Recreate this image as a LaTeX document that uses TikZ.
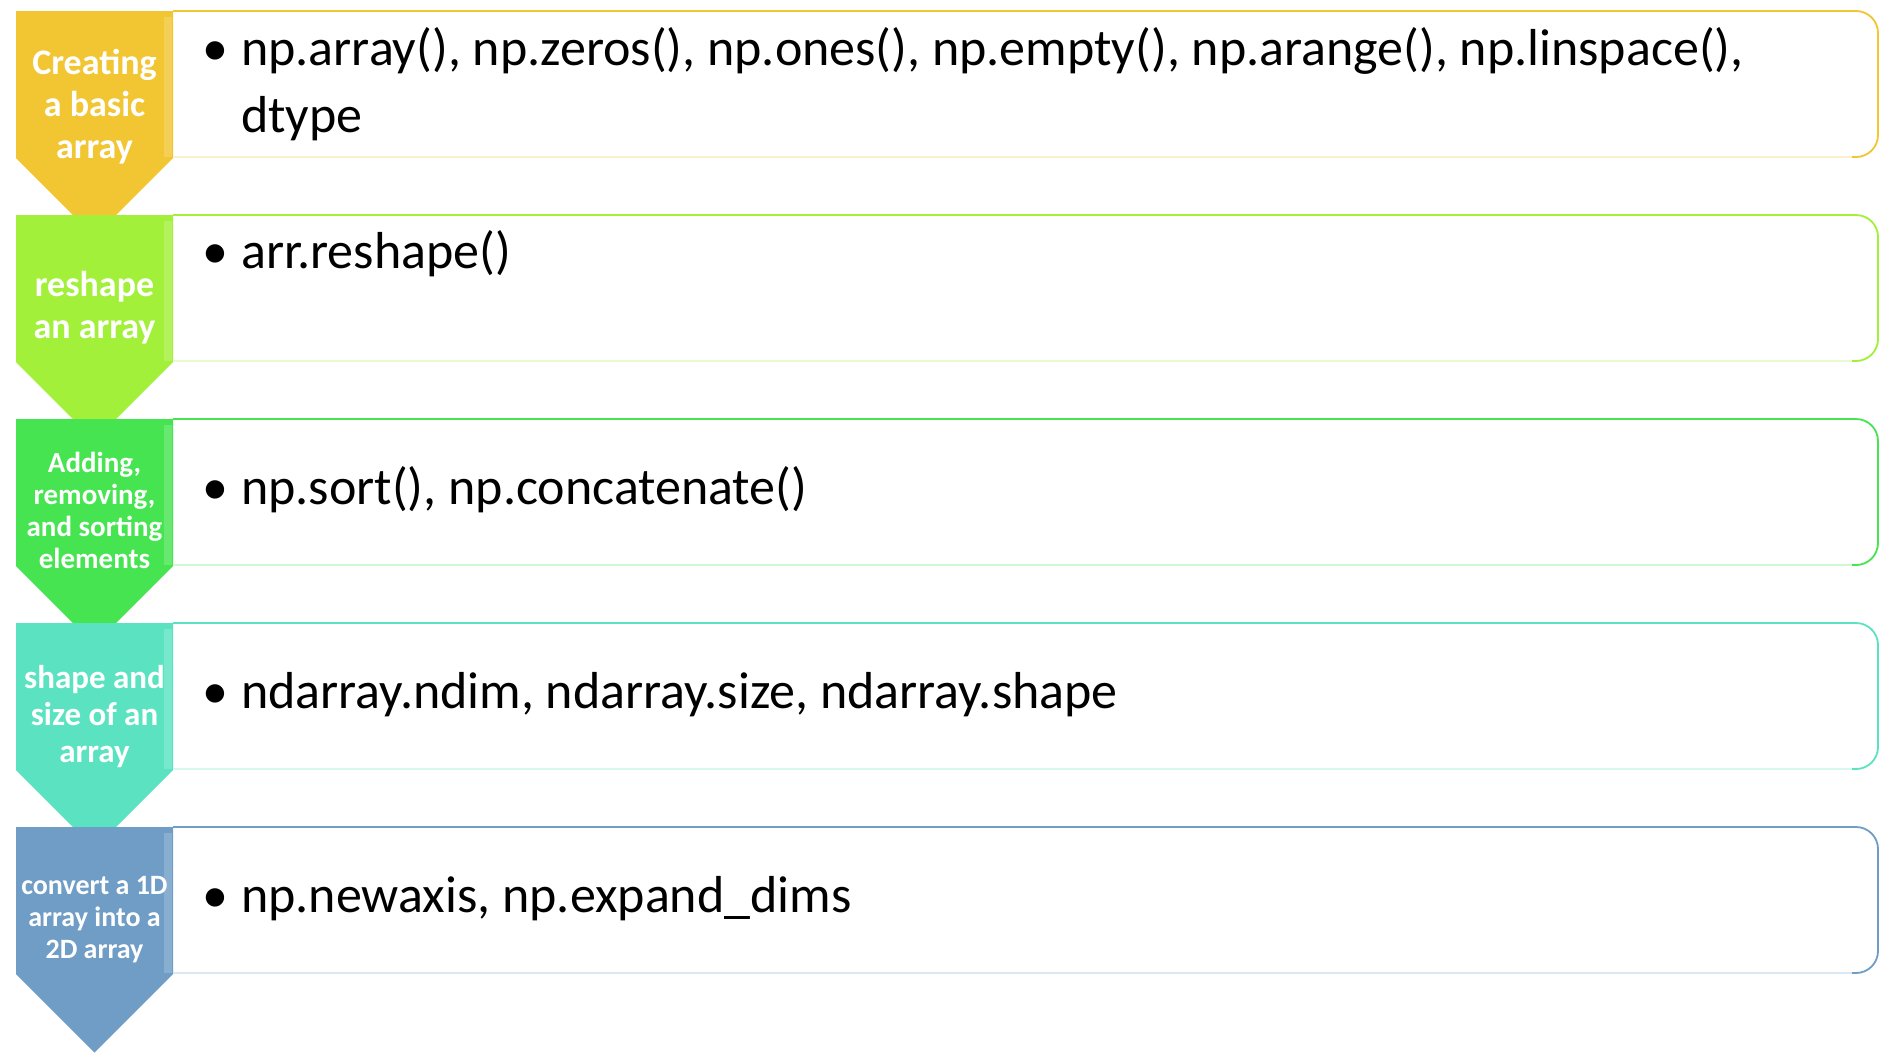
\documentclass[tikz,border=0pt]{standalone}
\usepackage{fontspec}
\setmainfont{Carlito}
\definecolor{cGold}{RGB}{242,197,50}
\definecolor{cLime}{RGB}{163,240,58}
\definecolor{cGreen}{RGB}{70,228,80}
\definecolor{cTeal}{RGB}{91,227,193}
\definecolor{cBlue}{RGB}{111,157,198}
% one row: #1 top edge, #2 colour
\newcommand{\chevrow}[2]{%
  \fill[#2] (16,#1) -- (173,#1) -- (173,#1+147) -- (94.5,#1+225.5) -- (16,#1+147) -- cycle;
  \fill[white, opacity=0.18] (164,#1+6) rectangle (172,#1+146);
  \draw[#2!25, line width=1.2] (173,#1+146) -- (1856,#1+146);
  \draw[#2, line width=1.8, rounded corners=22] (173,#1) -- (1878,#1) -- (1878,#1+146) -- (1852,#1+146);
}
\begin{document}
\begin{tikzpicture}[x=1pt, y=-1pt,
  tag/.style={text=white, font=\bfseries, align=center, inner sep=0pt},
  item/.style={font=\fontsize{52}{67}\selectfont, anchor=base west, inner sep=0pt, align=left},
  dot/.style={font=\fontsize{52}{67}\selectfont, anchor=base, inner sep=0pt}
]
\useasboundingbox (0,0) rectangle (1881,1053);
\fill[white] (0,0) rectangle (1881,1053);

\chevrow{11}{cGold}
\chevrow{215}{cLime}
\chevrow{419}{cGreen}
\chevrow{623}{cTeal}
\chevrow{827}{cBlue}

% step labels
\node[tag, font=\bfseries\fontsize{36}{42}\selectfont] (l1) at (94.5,107) {Creating\\a basic\\array};
\node[tag, font=\bfseries\fontsize{36}{42}\selectfont] (l2) at (94.5,308) {reshape\\an array};
\node[tag, font=\bfseries\fontsize{29}{32}\selectfont] (l3) at (94.5,510) {Adding,\\removing,\\and sorting\\elements};
\node[tag, font=\bfseries\fontsize{33}{37}\selectfont] (l4) at (94.5,717) {shape and\\size of an\\array};
\node[tag, font=\bfseries\fontsize{28}{32}\selectfont] (l5) at (94.5,920) {convert a 1D\\array into a\\2D array};

% bullets and items (base anchor sits on the last line)
\node[dot] (b1) at (215,65) {•};
\node[item] (t1) at (241,132) {np.array(), np.zeros(), np.ones(), np.empty(), np.arange(), np.linspace(),\\dtype};
\node[dot] (b2) at (215,268) {•};
\node[item] (t2) at (241,268) {arr.reshape()};
\node[dot] (b3) at (215,504) {•};
\node[item] (t3) at (241,504) {np.sort(), np.concatenate()};
\node[dot] (b4) at (215,708) {•};
\node[item] (t4) at (241,708) {ndarray.ndim, ndarray.size, ndarray.shape};
\node[dot] (b5) at (215,912) {•};
\node[item] (t5) at (241,912) {np.newaxis, np.expand\_dims};
\end{tikzpicture}
\end{document}
